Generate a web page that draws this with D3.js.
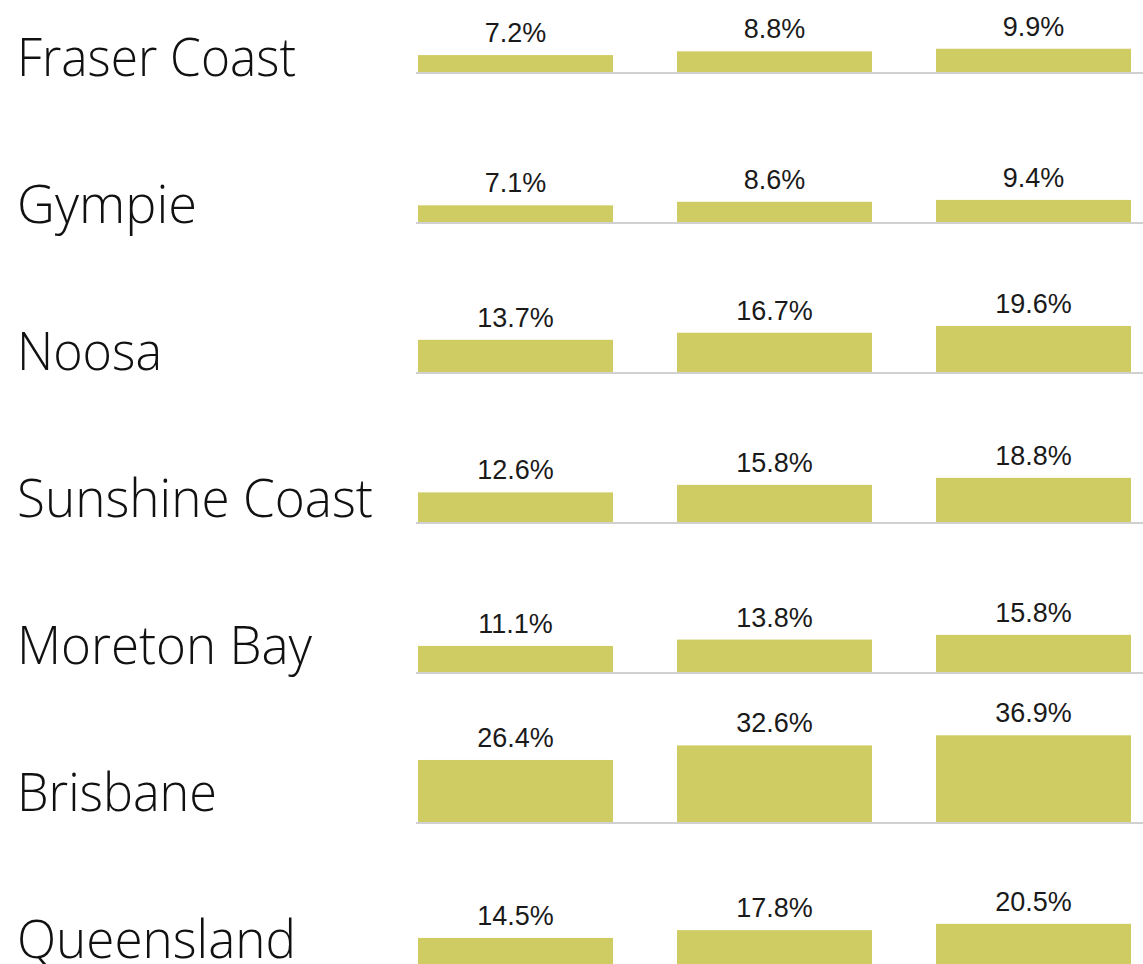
<!DOCTYPE html>
<html>
<head>
<meta charset="utf-8">
<script src="https://cdn.jsdelivr.net/npm/d3@7"></script>
<style>
  html, body { margin: 0; padding: 0; background: #fff; }
  svg { display: block; }
</style>
</head>
<body>
<div id="chart"></div>
<script>
/* Share by region, three periods per row */
const regions = ["Fraser Coast", "Gympie", "Noosa", "Sunshine Coast", "Moreton Bay", "Brisbane", "Queensland"];
const periods = ["p1", "p2", "p3"];
const valuesP1 = [7.2, 7.1, 13.7, 12.6, 11.1, 26.4, 14.5];
const valuesP2 = [8.8, 8.6, 16.7, 15.8, 13.8, 32.6, 17.8];
const valuesP3 = [9.9, 9.4, 19.6, 18.8, 15.8, 36.9, 20.5];
// measured widths of the region labels in the picture, so the font fits
const labelWidths = [279, 180, 145, 356, 295, 200, 279];

(function () {
  const W = 1143, H = 964;
  const svg = d3.select("#chart").append("svg")
    .attr("width", W).attr("height", H);

  const rows = regions.map((name, i) => ({
    name, i, vals: [valuesP1[i], valuesP2[i], valuesP3[i]]
  }));

  // row baseline positions
  const yRow = d3.scalePoint()
    .domain(regions)
    .range([72, 972]);

  // region labels sit on their own, slightly tighter spacing
  const yLabel = d3.scalePoint()
    .domain(regions)
    .range([76, 958]);

  // bars within a row
  const x = d3.scaleBand()
    .domain(periods)
    .range([354, 1195])
    .padding(0.247);

  // bar height (px per percent)
  const h = d3.scaleLinear().domain([0, 40]).range([0, 94]);

  // region labels
  svg.selectAll("text.region")
    .data(rows)
    .join("text")
    .attr("class", "region")
    .attr("x", 17)
    .attr("y", d => yLabel(d.name))
    .style("font-family", "'Open Sans', sans-serif")
    .style("font-weight", 300)
    .style("font-size", "54px")
    .attr("fill", "#111")
    .attr("textLength", d => labelWidths[d.i])
    .attr("lengthAdjust", "spacingAndGlyphs")
    .text(d => d.name);

  const row = svg.selectAll("g.row")
    .data(rows)
    .join("g")
    .attr("class", "row")
    .attr("transform", d => `translate(0,${yRow(d.name)})`);

  // bars
  row.selectAll("rect.bar")
    .data(d => d.vals.map((v, j) => ({ v, p: periods[j] })))
    .join("rect")
    .attr("class", "bar")
    .attr("x", d => x(d.p))
    .attr("width", x.bandwidth())
    .attr("y", d => -h(d.v))
    .attr("height", d => h(d.v))
    .attr("fill", "#cfcc63");

  // baseline
  row.append("line")
    .attr("x1", 416).attr("x2", W)
    .attr("y1", 1).attr("y2", 1)
    .attr("stroke", "#d0d0d0")
    .attr("stroke-width", 2);

  // value labels
  row.selectAll("text.val")
    .data(d => d.vals.map((v, j) => ({ v, p: periods[j] })))
    .join("text")
    .attr("class", "val")
    .attr("x", d => x(d.p) + x.bandwidth() / 2)
    .attr("y", d => -h(d.v) - 13)
    .attr("text-anchor", "middle")
    .style("font-family", "'Liberation Sans', Arial, sans-serif")
    .style("font-size", "27px")
    .attr("fill", "#1a1a1a")
    .text(d => d3.format(".1f")(d.v) + "%");
})();
</script>
</body>
</html>
